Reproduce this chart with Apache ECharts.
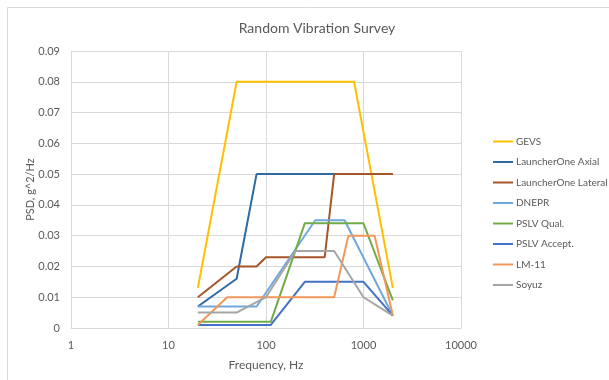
<!DOCTYPE html>
<html>
<head>
<meta charset="utf-8">
<script src="https://cdn.jsdelivr.net/npm/echarts@6/dist/echarts.min.js"></script>
<style>
  html, body { margin: 0; padding: 0; background: #fff; }
  #chart { width: 609px; height: 380px; }
</style>
</head>
<body>
<div id="chart"></div>
<script>
// frequency (Hz), PSD (g^2/Hz) breakpoints
var gevs = [[20, 0.013], [50, 0.08], [800, 0.08], [2000, 0.013]];
var launcherOneAxial = [[20, 0.007], [50, 0.016], [80, 0.05], [2000, 0.05]];
var launcherOneLateral = [[20, 0.01], [50, 0.02], [80, 0.02], [100, 0.023], [400, 0.023], [500, 0.05], [2000, 0.05]];
var dnepr = [[20, 0.007], [80, 0.007], [320, 0.035], [640, 0.035], [2000, 0.004]];
var pslvQual = [[20, 0.002], [112, 0.002], [250, 0.034], [1000, 0.034], [2000, 0.009]];
var pslvAccept = [[20, 0.001], [112, 0.001], [250, 0.015], [1000, 0.015], [2000, 0.004]];
var lm11 = [[20, 0.001], [40, 0.01], [500, 0.01], [700, 0.03], [1300, 0.03], [2000, 0.004]];
var soyuz = [[20, 0.005], [50, 0.005], [100, 0.01], [200, 0.025], [500, 0.025], [1000, 0.01], [2000, 0.004]];

var seriesNames = ['GEVS', 'LauncherOne Axial', 'LauncherOne Lateral', 'DNEPR', 'PSLV Qual.', 'PSLV Accept.', 'LM-11', 'Soyuz'];
var seriesData = [gevs, launcherOneAxial, launcherOneLateral, dnepr, pslvQual, pslvAccept, lm11, soyuz];
var seriesColors = ['#FFC000', '#2E6AA5', '#A5552A', '#6FA8DC', '#70AD47', '#4472C4', '#F1975A', '#A5A5A5'];

var font = 'Lato, "Open Sans", sans-serif';
var txt = '#595959';

var chart = echarts.init(document.getElementById('chart'));
chart.setOption({
  animation: false,
  textStyle: { fontFamily: font },
  graphic: [{
    type: 'rect',
    shape: { x: 7.5, y: 7.5, width: 620, height: 400 },
    style: { fill: 'none', stroke: '#d9d9d9', lineWidth: 1 },
    silent: true
  }],
  title: {
    text: 'Random Vibration Survey',
    left: 312,
    top: 16,
    textAlign: 'center',
    textStyle: { fontFamily: font, fontSize: 14, fontWeight: 'normal', color: txt }
  },
  legend: {
    orient: 'vertical',
    left: 493,
    top: 135.5,
    width: 116,
    padding: 0,
    icon: 'rect',
    itemWidth: 20,
    itemHeight: 2,
    itemGap: 8.5,
    textStyle: { fontFamily: font, fontSize: 10, lineHeight: 12, color: txt, padding: [0, 0, 0, -2] },
    data: seriesNames
  },
  grid: { left: 71, top: 51, right: 148, bottom: 52, containLabel: false },
  xAxis: {
    type: 'log',
    logBase: 10,
    min: 1,
    max: 10000,
    name: 'Frequency, Hz',
    nameLocation: 'middle',
    nameGap: 31,
    nameTextStyle: { fontFamily: font, fontSize: 12, color: txt },
    axisLine: { show: true, lineStyle: { color: '#d9d9d9' } },
    axisTick: { show: false },
    axisLabel: {
      fontFamily: font, fontSize: 11, color: txt, margin: 12,
      formatter: function (v) { return String(Math.round(v)); }
    },
    splitLine: { show: true, lineStyle: { color: '#d9d9d9' } },
    minorTick: { show: false }
  },
  yAxis: {
    type: 'value',
    min: 0,
    max: 0.09,
    interval: 0.01,
    name: 'PSD, g^2/Hz',
    nameLocation: 'middle',
    nameGap: 35,
    nameMoveOverlap: false,
    nameTextStyle: { fontFamily: font, fontSize: 11, color: txt },
    axisLine: { show: false },
    axisTick: { show: false },
    axisLabel: {
      fontFamily: font, fontSize: 11, color: txt, margin: 11,
      formatter: function (v) { return v === 0 ? '0' : v.toFixed(2); }
    },
    splitLine: { show: true, lineStyle: { color: '#d9d9d9' } }
  },
  series: seriesNames.map(function (name, i) {
    return {
      name: name,
      type: 'line',
      data: seriesData[i],
      showSymbol: false,
      symbol: 'none',
      color: seriesColors[i],
      lineStyle: { width: 2, color: seriesColors[i] }
    };
  })
});
</script>
</body>
</html>
